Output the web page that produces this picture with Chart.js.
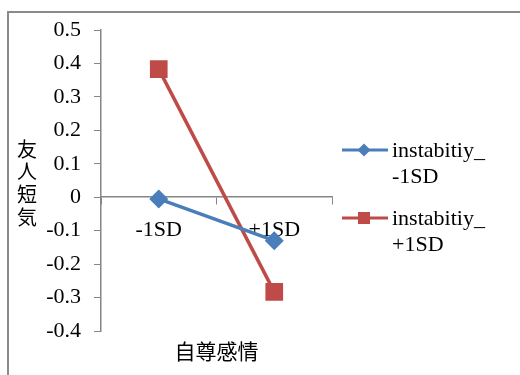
<!DOCTYPE html>
<html>
<head>
<meta charset="utf-8">
<script src="https://cdn.jsdelivr.net/npm/chart.js@4"></script>
<style>
  body { margin: 0; background: #fff; }
  #wrap { position: relative; width: 520px; height: 375px; overflow: hidden; }
  #frame { position: absolute; left: 7px; top: 11px; width: 600px; height: 500px;
           border-top: 2px solid #8a8a8a; border-left: 2px solid #8a8a8a; }
  canvas { position: absolute; left: 0; top: 0; }
</style>
</head>
<body>
<div id="wrap">
  <div id="frame"></div>
  <canvas id="chart" width="520" height="375"></canvas>
</div>
<script>
// data
const categories = ['-1SD', '+1SD'];
const lowValues = [-0.005, -0.13];   // instabitiy_-1SD
const highValues = [0.383, -0.283];  // instabitiy_+1SD
const seriesNames = [['instabitiy_', '-1SD'], ['instabitiy_', '+1SD']];
const yTitle = ['友', '人', '短', '気'];
const xTitle = '自尊感情';

let blue = '#4A7EBB';
let red = '#BE4B48';
let gray = '#868686';
const serif = '"Liberation Serif", "Times New Roman", serif';
const gothic = '"Noto Sans CJK JP"';

// titles + legend drawn by hand (Excel style)
const extras = {
  id: 'extras',
  afterDraw(chart) {
    const ctx = chart.ctx;
    const area = chart.chartArea;
    ctx.save();
    ctx.fillStyle = '#000';
    ctx.textAlign = 'center';
    ctx.textBaseline = 'middle';
    ctx.font = '20px ' + gothic;
    yTitle.forEach((ch, i) => ctx.fillText(ch, 27, 149 + i * 22.7));
    ctx.font = '21px ' + gothic;
    ctx.fillText(xTitle, (area.left + area.right) / 2, 351);

    // legend
    const ds = chart.data.datasets;
    ctx.textAlign = 'left';
    ctx.font = '22px ' + serif;
    ds.forEach((d, i) => {
      const y = 150 + i * 68;
      ctx.strokeStyle = d.borderColor;
      ctx.lineWidth = 3;
      ctx.beginPath();
      ctx.moveTo(342, y);
      ctx.lineTo(388, y);
      ctx.stroke();
      ctx.fillStyle = d.borderColor;
      ctx.beginPath();
      if (d.pointStyle === 'rectRot') {
        ctx.moveTo(364, y - 6.5);
        ctx.lineTo(370.5, y);
        ctx.lineTo(364, y + 6.5);
        ctx.lineTo(357.5, y);
      } else {
        ctx.rect(358, y - 6, 12, 12);
      }
      ctx.closePath();
      ctx.fill();
      ctx.fillStyle = '#000';
      seriesNames[i].forEach((t, j) => ctx.fillText(t, 392, y + 1 + j * 26));
    });
    ctx.restore();
  }
};

new Chart(document.getElementById('chart'), {
  type: 'line',
  data: {
    labels: categories,
    datasets: [
      {
        label: seriesNames[0].join(''),
        data: lowValues,
        borderColor: blue,
        backgroundColor: blue,
        borderWidth: 3.5,
        pointStyle: 'rectRot',
        pointRadius: 9.5,
        pointBorderWidth: 0,
        tension: 0
      },
      {
        label: seriesNames[1].join(''),
        data: highValues,
        borderColor: red,
        backgroundColor: red,
        borderWidth: 3.5,
        pointStyle: 'rect',
        pointRadius: 12.5,
        pointBorderWidth: 0,
        tension: 0
      }
    ]
  },
  options: {
    responsive: false,
    animation: false,
    layout: { padding: { left: 40, top: 30, right: 188, bottom: 44 } },
    plugins: { legend: { display: false }, tooltip: { enabled: false } },
    scales: {
      x: {
        type: 'category',
        position: { y: 0 },
        offset: true,
        grid: { offset: true, drawOnChartArea: false, tickLength: 7, color: gray },
        border: { color: gray, width: 1.5 },
        ticks: { color: '#000', font: { family: serif, size: 22 }, padding: 13 }
      },
      y: {
        min: -0.4,
        max: 0.5,
        afterFit(scale) { scale.width = 61; },
        grid: { drawOnChartArea: false, tickLength: 7, color: gray },
        border: { color: gray, width: 1.5 },
        ticks: {
          stepSize: 0.1,
          padding: 13,
          color: '#000',
          font: { family: serif, size: 22 },
          callback: v => Math.abs(v) < 1e-9 ? '0' : v.toFixed(1)
        }
      }
    }
  },
  plugins: [extras]
});
</script>
</body>
</html>
